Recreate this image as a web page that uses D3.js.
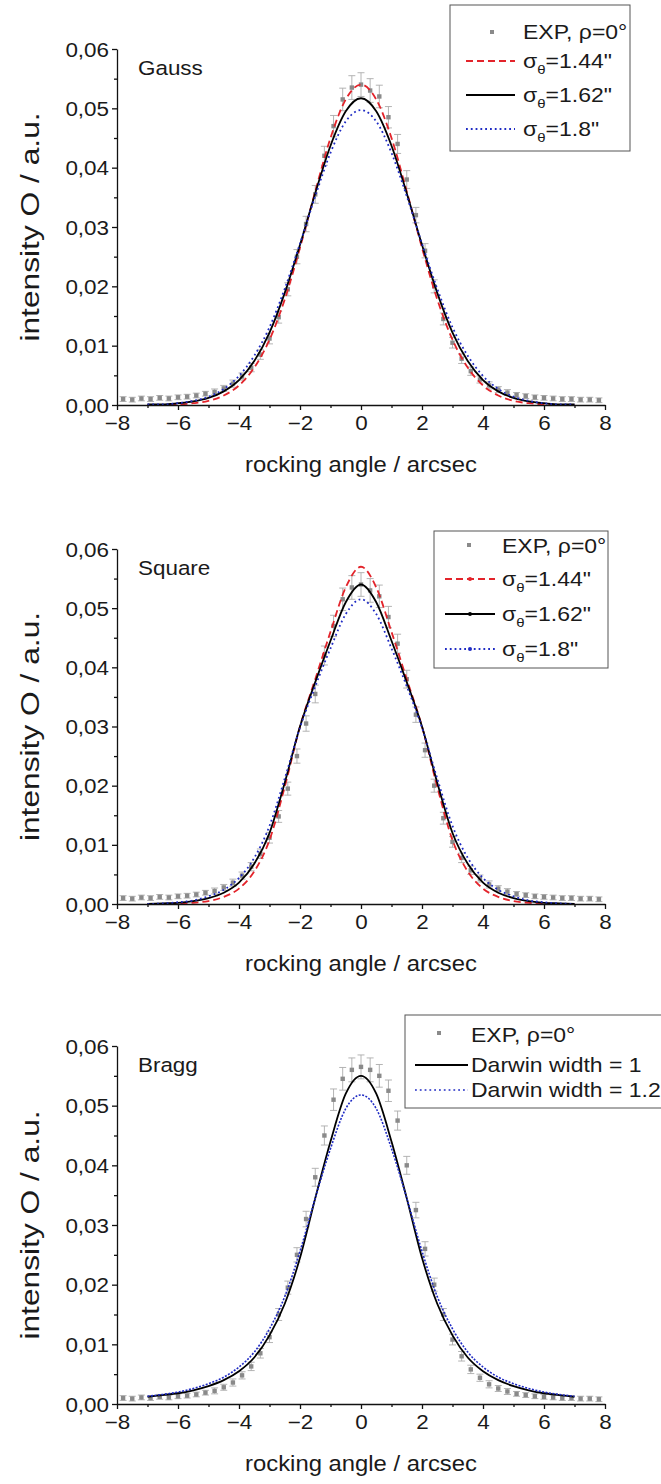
<!DOCTYPE html>
<html>
<head>
<meta charset="utf-8">
<script src="https://cdn.jsdelivr.net/npm/d3@7"></script>
<style>
  body { margin: 0; background: #fff; }
  svg { display: block; }
  text { font-family: "Liberation Sans", Arial, sans-serif; fill: #1a1a1a; }
</style>
</head>
<body>
<div id="chart-area"></div>
<script>
// experimental points (same measurement in every panel)
const expX = [-7.8,-7.5,-7.2,-6.9,-6.6,-6.3,-6.0,-5.7,-5.4,-5.1,-4.8,-4.5,-4.2,-3.9,-3.6,-3.3,-3.0,-2.7,-2.4,-2.1,
  -1.8,-1.5,-1.2,-0.9,-0.6,-0.3,0,0.3,0.6,0.9,1.2,1.5,1.8,2.1,2.4,2.7,3.0,3.3,3.6,3.9,
  4.2,4.5,4.8,5.1,5.4,5.7,6.0,6.3,6.6,6.9,7.2,7.5,7.8]
const expY = [0.0010,0.0009,0.0011,0.0010,0.0012,0.0011,0.0013,0.0014,0.0016,0.0019,
  0.0022,0.0028,0.0036,0.0048,0.0063,0.0085,0.0112,0.0148,0.0195,0.0250,
  0.0305,0.0355,0.0420,0.0470,0.0515,0.0535,0.0540,0.0530,0.0520,0.0485,
  0.0440,0.0380,0.0320,0.0260,0.0200,0.0145,0.0105,0.0078,0.0057,0.0043,
  0.0033,0.0026,0.0021,0.0017,0.0015,0.0013,0.0012,0.0011,0.0010,0.0010,
  0.0009,0.0009,0.0008]
const expYBragg = [0.0010,0.0009,0.0011,0.0010,0.0012,0.0011,0.0013,0.0014,0.0016,0.0019,
  0.0022,0.0028,0.0036,0.0048,0.0063,0.0085,0.0112,0.0150,0.0195,0.0250,
  0.0310,0.0380,0.0450,0.0510,0.0545,0.0560,0.0565,0.0560,0.0550,0.0525,
  0.0475,0.0400,0.0325,0.0260,0.0200,0.0150,0.0108,0.0080,0.0058,0.0044,
  0.0033,0.0026,0.0021,0.0017,0.0015,0.0013,0.0012,0.0011,0.0010,0.0010,
  0.0009,0.0009,0.0008]
const expErr = [0.0004,0.0004,0.0004,0.0004,0.0004,0.0004,0.0004,0.0004,0.0004,0.0004,
  0.0005,0.0005,0.0006,0.0006,0.0007,0.0008,0.0009,0.0010,0.0011,0.0012,
  0.0013,0.0015,0.0016,0.0018,0.0019,0.0020,0.0020,0.0020,0.0019,0.0018,
  0.0016,0.0015,0.0013,0.0012,0.0011,0.0010,0.0009,0.0008,0.0007,0.0006,
  0.0006,0.0005,0.0005,0.0004,0.0004,0.0004,0.0004,0.0004,0.0004,0.0004,
  0.0004,0.0004,0.0004]

// simulated curves
const curveX = [-7,-6.5,-6,-5.5,-5,-4.5,-4,-3.5,-3,-2.5,-2,-1.5,-1,-0.5,0,0.5,1,1.5,2,2.5,3,3.5,4,4.5,5,5.5,6,6.5,7]
const gauss144 = [0.0000,0.0000,0.0001,0.0003,0.0007,0.0016,0.0033,0.0063,0.0110,0.0178,0.0265,0.0360,0.0450,0.0515,0.0540,
  0.0515,0.0450,0.0360,0.0265,0.0178,0.0110,0.0063,0.0033,0.0016,0.0007,0.0003,0.0001,0.0000,0.0000]
const gauss162 = [0.0001,0.0001,0.0003,0.0006,0.0012,0.0023,0.0042,0.0074,0.0122,0.0189,0.0270,0.0357,0.0437,0.0495,0.0517,
  0.0495,0.0437,0.0357,0.0270,0.0189,0.0122,0.0074,0.0042,0.0023,0.0012,0.0006,0.0003,0.0001,0.0001]
const gauss180 = [0.0001,0.0001,0.0003,0.0007,0.0014,0.0027,0.0049,0.0083,0.0131,0.0196,0.0272,0.0352,0.0425,0.0478,0.0497,
  0.0478,0.0425,0.0352,0.0272,0.0196,0.0131,0.0083,0.0049,0.0027,0.0014,0.0007,0.0003,0.0001,0.0001]
const square144 = [0.0000,0.0000,0.0001,0.0002,0.0005,0.0012,0.0026,0.0055,0.0108,0.0198,0.0300,0.0380,0.0460,0.0535,0.0570,
  0.0535,0.0460,0.0380,0.0300,0.0198,0.0108,0.0055,0.0026,0.0012,0.0005,0.0002,0.0001,0.0000,0.0000]
const square162 = [0.0000,0.0001,0.0002,0.0005,0.0010,0.0019,0.0036,0.0068,0.0120,0.0205,0.0300,0.0375,0.0445,0.0510,0.0540,
  0.0510,0.0445,0.0375,0.0300,0.0205,0.0120,0.0068,0.0036,0.0019,0.0010,0.0005,0.0002,0.0001,0.0000]
const square180 = [0.0000,0.0001,0.0003,0.0006,0.0013,0.0024,0.0044,0.0078,0.0132,0.0212,0.0298,0.0368,0.0432,0.0490,0.0515,
  0.0490,0.0432,0.0368,0.0298,0.0212,0.0132,0.0078,0.0044,0.0024,0.0013,0.0006,0.0003,0.0001,0.0000]
const braggD1 = [0.0012,0.0015,0.0018,0.0023,0.0030,0.0040,0.0055,0.0078,0.0115,0.0168,0.0245,0.0345,0.0440,0.0520,0.0550,
  0.0520,0.0440,0.0345,0.0245,0.0168,0.0115,0.0078,0.0055,0.0040,0.0030,0.0023,0.0018,0.0015,0.0012]
const braggD12 = [0.0013,0.0016,0.0020,0.0026,0.0034,0.0045,0.0062,0.0087,0.0126,0.0180,0.0256,0.0345,0.0428,0.0495,0.0518,
  0.0495,0.0428,0.0345,0.0256,0.0180,0.0126,0.0087,0.0062,0.0045,0.0034,0.0026,0.0020,0.0016,0.0013]

const yTicks = [0, 0.01, 0.02, 0.03, 0.04, 0.05, 0.06]
const yMinor = [0.005, 0.015, 0.025, 0.035, 0.045, 0.055]
const xTicks = [-8, -6, -4, -2, 0, 2, 4, 6, 8]
const xMinor = [-7, -5, -3, -1, 1, 3, 5, 7]

const SX = 1.15   // the picture is a bit wider than tall
const RED = '#e3242b', BLUE = '#1f2bc4', GREY = '#8a8a8a'

const styles = {
  red:   { stroke: RED, width: 1.8, dash: '7,4' },
  black: { stroke: '#000', width: 1.8, dash: null },
  blue:  { stroke: BLUE, width: 1.8, dash: '1.8,3' },
  blueB: { stroke: BLUE, width: 1.6, dash: '2,1.5' }
}

const panels = [
  { label: 'Gauss', top: 49, bottom: 405, exp: expY,
    series: [ { y: gauss144, s: 'red', name: '1.44"' }, { y: gauss162, s: 'black', name: '1.62"' }, { y: gauss180, s: 'blue', name: '1.8"' } ],
    legend: { x: 450, y: 5, w: 180, h: 146, mx: 492, my: 32, tx: 523, ty: 39, lx0: 466, lx1: 515, rows: [68, 102, 136], dots: false } },
  { label: 'Square', top: 549, bottom: 904, exp: expY,
    series: [ { y: square144, s: 'red', name: '1.44"' }, { y: square162, s: 'black', name: '1.62"' }, { y: square180, s: 'blue', name: '1.8"' } ],
    legend: { x: 434, y: 531, w: 174, h: 137, mx: 469, my: 545, tx: 502, ty: 553, lx0: 445, lx1: 495, rows: [586, 621, 656], dots: true } },
  { label: 'Bragg', top: 1046, bottom: 1404, exp: expYBragg,
    series: [ { y: braggD1, s: 'black', name: 'Darwin width = 1' }, { y: braggD12, s: 'blueB', name: 'Darwin width = 1.2' } ],
    legend: { x: 405, y: 1015, w: 270, h: 93, mx: 439, my: 1033, tx: 471, ty: 1042, lx0: 415, lx1: 468, rows: [1072, 1097], dots: false, plain: true } }
]

const svg = d3.select('#chart-area')
              .append('svg')
              .attr('width', 661)
              .attr('height', 1484)

const x = d3.scaleLinear().domain([-8, 8]).range([117, 605])

const stretched = (sel, tx, ty, k) => sel.attr('transform', 'translate(' + tx + ',' + ty + ') scale(' + (k || SX) + ',1)')

panels.forEach(p => {
  const y = d3.scaleLinear().domain([0, 0.06]).range([p.bottom, p.top])
  const g = svg.append('g')

  // error bars
  const pts = expX.map((v, i) => ({ x: v, y: p.exp[i], e: expErr[i] }))
  const eb = g.append('g').attr('stroke', '#acacac').attr('stroke-width', 0.9)
  eb.selectAll('path')
    .data(pts)
    .enter().append('path')
    .attr('d', d => {
      const cx = x(d.x), y0 = y(d.y - d.e), y1 = y(d.y + d.e)
      return 'M' + cx + ',' + y0 + 'V' + y1 + 'M' + (cx - 3.5) + ',' + y0 + 'H' + (cx + 3.5) + 'M' + (cx - 3.5) + ',' + y1 + 'H' + (cx + 3.5)
    })

  g.selectAll('rect.exp')
   .data(pts)
   .enter().append('rect')
   .attr('class', 'exp')
   .attr('x', d => x(d.x) - 2.2)
   .attr('y', d => y(d.y) - 2.2)
   .attr('width', 4.4)
   .attr('height', 4.4)
   .attr('fill', GREY)

  // model curves
  const line = d3.line()
                 .x((d, i) => x(curveX[i]))
                 .y(d => y(d))
                 .curve(d3.curveMonotoneX)
  p.series.forEach(s => {
    const st = styles[s.s]
    g.append('path')
     .attr('d', line(s.y))
     .attr('fill', 'none')
     .attr('stroke', st.stroke)
     .attr('stroke-width', st.width)
     .attr('stroke-dasharray', st.dash)
  })

  // axes
  const fmt = d => d3.format('.2f')(d).replace('.', ',')
  const yAxis = g.append('g')
                 .attr('transform', 'translate(' + x(-8) + ',0)')
                 .call(d3.axisLeft(y).tickValues(yTicks).tickSize(5).tickSizeOuter(0).tickFormat(fmt))
  yAxis.selectAll('text')
       .attr('x', null).attr('dy', null)
       .attr('font-size', 19.5)
       .attr('font-family', '"Liberation Sans", Arial, sans-serif')
       .attr('fill', '#1a1a1a')
       .call(stretched, -8, 7)
  g.append('g')
   .attr('transform', 'translate(' + x(-8) + ',0)')
   .call(d3.axisLeft(y).tickValues(yMinor).tickSize(3).tickFormat(''))
   .call(a => a.select('.domain').remove())

  const xAxis = g.append('g')
                 .attr('transform', 'translate(0,' + p.bottom + ')')
                 .call(d3.axisBottom(x).tickValues(xTicks).tickSize(5).tickSizeOuter(0))
  xAxis.selectAll('text')
       .attr('y', null).attr('dy', null)
       .attr('font-size', 19.5)
       .attr('font-family', '"Liberation Sans", Arial, sans-serif')
       .attr('fill', '#1a1a1a')
       .call(stretched, 0, 25)
  g.append('g')
   .attr('transform', 'translate(0,' + p.bottom + ')')
   .call(d3.axisBottom(x).tickValues(xMinor).tickSize(3).tickFormat(''))
   .call(a => a.select('.domain').remove())
  g.selectAll('.domain, .tick line').attr('stroke', '#111').attr('stroke-width', 1.3)

  // titles
  g.append('text')
   .attr('text-anchor', 'middle')
   .attr('font-size', 22.5)
   .text('rocking angle / arcsec')
   .call(stretched, x(0), p.bottom + 67, 1.06)
  g.append('text')
   .attr('text-anchor', 'middle')
   .attr('font-size', 26)
   .attr('transform', 'translate(39,' + (p.top + p.bottom) / 2 + ') rotate(-90) scale(1.22,1)')
   .text('intensity O / a.u.')
  g.append('text')
   .attr('font-size', 19.5)
   .text(p.label)
   .call(stretched, 138, p.top + 26)

  // legend
  const L = p.legend
  const lg = svg.append('g')
  lg.append('rect')
    .attr('x', L.x).attr('y', L.y).attr('width', L.w).attr('height', L.h)
    .attr('fill', '#fff').attr('stroke', '#555').attr('stroke-width', 1)
  lg.append('rect')
    .attr('x', L.mx - 2).attr('y', L.my - 2).attr('width', 4).attr('height', 4)
    .attr('fill', GREY)
  lg.append('text')
    .attr('font-size', 20)
    .text('EXP, ρ=0°')
    .call(stretched, L.tx, L.ty)
  p.series.forEach((s, i) => {
    const st = styles[s.s]
    const ly = L.rows[i] - 7
    lg.append('line')
      .attr('x1', L.lx0).attr('x2', L.lx1).attr('y1', ly).attr('y2', ly)
      .attr('stroke', st.stroke).attr('stroke-width', st.width)
      .attr('stroke-dasharray', s.s === 'blueB' ? '1.8,3' : st.dash)
    if (L.dots) {
      lg.append('circle')
        .attr('cx', (L.lx0 + L.lx1) / 2).attr('cy', ly).attr('r', 2)
        .attr('fill', st.stroke)
    }
    const t = lg.append('text').attr('font-size', 20).call(stretched, L.tx, L.rows[i])
    if (L.plain) {
      t.text(s.name)
    } else {
      t.append('tspan').text('σ')
      t.append('tspan').attr('font-size', 13).attr('dy', 6).text('θ')
      t.append('tspan').attr('dy', -6).text('=' + s.name)
    }
  })
})
</script>
</body>
</html>
